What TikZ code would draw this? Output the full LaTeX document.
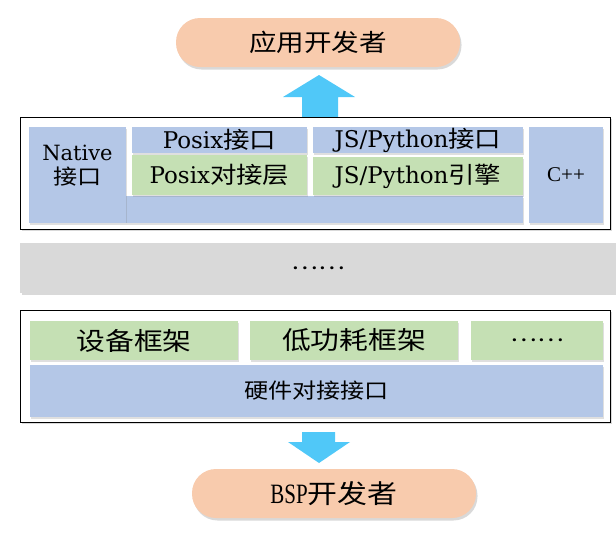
\documentclass[tikz,border=0pt]{standalone}
\usepackage{fontspec}
\setmainfont{DejaVu Serif}
\newfontfamily\cjk[FakeStretch=1.15]{Noto Sans CJK SC}
\newfontfamily\nserif[FakeStretch=0.75]{Liberation Serif}
\newfontfamily\lserif{Liberation Serif}
\usetikzlibrary{shadows}
\newcommand\setfs[1]{\fontsize{#1}{#1}\selectfont}
\definecolor{peach}{HTML}{F8CBAD}
\definecolor{blueC}{HTML}{B4C7E7}
\definecolor{greenC}{HTML}{C5E0B4}
\definecolor{grayC}{HTML}{D9D9D9}
\definecolor{arrowC}{HTML}{50C8F8}
\tikzset{
  box/.style={inner sep=0pt, outer sep=0pt, draw=none, text=black, align=center},
  shad/.style={drop shadow={opacity=0.25, shadow xshift=1pt, shadow yshift=-1.5pt}},
  pill/.style={box, fill=peach, rounded corners=24pt, drop shadow={opacity=0.3, shadow xshift=1.5pt, shadow yshift=-2.5pt}},
  frame/.style={box, draw=black, line width=1pt, fill=white, drop shadow={opacity=0.3, shadow xshift=1.5pt, shadow yshift=-2pt}},
  bluebox/.style={box, fill=blueC, shad},
  greenbox/.style={box, fill=greenC, shad},
  graybox/.style={box, fill=grayC, drop shadow={opacity=0.3, shadow xshift=1.5pt, shadow yshift=-2pt}},
  blockarrow/.style={fill=arrowC, draw=none}
}
\begin{document}
\begin{tikzpicture}[x=1pt, y=-1pt]
\useasboundingbox (0,0) rectangle (616,536);
% top developer
\node[pill, minimum width=284pt, minimum height=49pt, font=\setfs{24}\cjk] (app) at (318,42.5) {应用开发者};
% up arrow
\fill[blockarrow] (302,118) -- (302,97) -- (283,97) -- (319,75) -- (355,97) -- (338,97) -- (338,118) -- cycle;
% layer 1
\node[frame, minimum width=590pt, minimum height=112pt] (layer1) at (315,173) {};
\node[bluebox, minimum width=397pt, minimum height=27pt] (bar) at (324.5,209.5) {};
\node[bluebox, minimum width=97pt, minimum height=96pt] (native) at (77.5,175) {};
\node[box, font=\setfs{21}] (nativetext) at (77.5,166) {Native\\[3pt]{\cjk 接口}};
\node[bluebox, minimum width=175pt, minimum height=26pt, font=\setfs{23}] (posixapi) at (219.5,140) {Posix{\cjk 接口}};
\node[greenbox, minimum width=175pt, minimum height=40pt, font=\setfs{23}] (posixlayer) at (219.5,175) {Posix{\cjk 对接层}};
\node[bluebox, minimum width=210pt, minimum height=26pt, font=\setfs{23}] (jsapi) at (418,140) {JS/Python{\cjk 接口}};
\node[greenbox, minimum width=210pt, minimum height=38pt, font=\setfs{23}] (jsengine) at (418,176) {JS/Python{\cjk 引擎}};
\node[bluebox, minimum width=74pt, minimum height=96pt, font=\setfs{21}\lserif] (cpp) at (566,175) {C++};
% middle gray band
\node[graybox, minimum width=596pt, minimum height=50pt, font=\setfs{22}\cjk] (mid) at (318,268) {……};
% layer 2
\node[frame, minimum width=590pt, minimum height=112pt] (layer2) at (315,366) {};
\node[greenbox, minimum width=208pt, minimum height=39pt, font=\setfs{25}\cjk] (dev) at (134,340.5) {设备框架};
\node[greenbox, minimum width=208pt, minimum height=39pt, font=\setfs{25}\cjk] (low) at (354,340.5) {低功耗框架};
\node[greenbox, minimum width=132pt, minimum height=39pt, font=\setfs{22}\cjk] (more) at (537,340.5) {……};
\node[bluebox, minimum width=573pt, minimum height=52pt, font=\setfs{21}\cjk] (hw) at (316.5,391) {硬件对接接口};
% down arrow
\fill[blockarrow] (302,432) -- (335,432) -- (335,442) -- (350,442) -- (319,463) -- (288,442) -- (302,442) -- cycle;
% bottom developer
\node[pill, minimum width=284pt, minimum height=49pt, font=\setfs{28}\nserif] (bsp) at (334,493.5) {BSP{\setfs{26}\cjk 开发者}};
\end{tikzpicture}
\end{document}
